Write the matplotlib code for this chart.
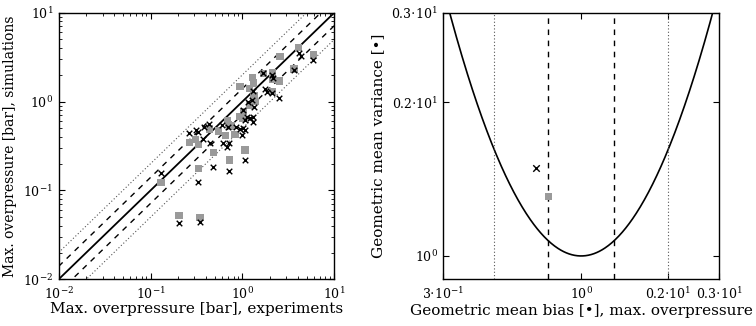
import numpy as np
import matplotlib
matplotlib.use("Agg")
import matplotlib.pyplot as plt

plt.rcParams['font.family'] = ['DejaVu Serif', 'DejaVu Sans']
plt.rcParams['mathtext.fontset'] = 'dejavuserif'

# max overpressure [bar]: experiments vs simulations, two model variants
exp_sq = [0.13, 0.204, 0.345, 0.264, 0.305, 0.331, 0.331, 0.482, 0.436, 0.546,
          0.651, 0.719, 0.684, 0.83, 1.066, 0.941, 1.293, 1.188, 1.687, 2.113,
          2.519, 2.564, 3.64, 4.06, 5.97, 2.135, 1.37, 1.022, 1.006, 0.764,
          1.313, 1.336, 0.941, 1.188, 2.135, 0.70]
sim_sq = [0.122, 0.052, 0.050, 0.344, 0.376, 0.330, 0.177, 0.266, 0.491, 0.466,
          0.413, 0.220, 0.609, 0.428, 0.285, 1.47, 1.875, 1.41, 2.08, 2.135,
          1.703, 3.20, 2.325, 4.08, 3.34, 1.291, 0.996, 0.769, 0.648, 0.531,
          1.617, 1.176, 0.675, 0.915, 1.75, 0.55]

exp_cr = [0.13, 0.204, 0.345, 0.331, 0.482, 0.714, 1.066, 0.264, 0.312, 0.331,
          0.382, 0.436, 0.375, 0.444, 0.619, 0.684, 0.719, 0.595, 0.691, 0.851,
          0.941, 1.066, 1.006, 1.066, 1.209, 1.313, 1.261, 1.336, 1.761, 1.838,
          2.083, 2.519, 1.687, 2.083, 2.168, 3.64, 4.16, 4.31, 5.91, 0.982,
          1.293, 1.158, 1.022, 1.113, 1.313]
sim_cr = [0.159, 0.0434, 0.0441, 0.125, 0.182, 0.167, 0.220, 0.446, 0.479, 0.458,
          0.513, 0.559, 0.376, 0.344, 0.344, 0.310, 0.339, 0.545, 0.521, 0.521,
          0.487, 0.479, 0.804, 0.620, 0.648, 0.675, 1.041, 0.875, 1.374, 1.291,
          1.258, 1.088, 2.112, 1.99, 1.827, 2.266, 3.49, 3.26, 2.94, 0.420,
          1.32, 0.996, 0.500, 0.675, 0.593]

# geometric mean bias / variance of each variant
mg_sq, vg_sq = 0.769, 1.31
mg_cr, vg_cr = 0.70, 1.49

grey = '#9a9a9a'

fig = plt.figure(figsize=(7.56, 3.26), dpi=100)
ax1 = fig.add_axes([0.0776, 0.1433, 0.3646, 0.8178])
ax2 = fig.add_axes([0.5864, 0.1433, 0.3647, 0.8178])

# --- scatter of simulated vs measured
ref = np.array([1e-2, 1e1])
ax1.plot(ref, ref, c='k', lw=1.3)
for f in [1.4, 1 / 1.4]:
    ax1.plot(ref, ref * f, c='k', lw=1.0, ls=(0, (4, 4)))
for f in [2.0, 0.5]:
    ax1.plot(ref, ref * f, c='#555555', lw=0.8, ls=(0, (1, 2)))
ax1.scatter(exp_sq, sim_sq, marker='s', s=26, c=grey, edgecolors='none', zorder=3)
ax1.scatter(exp_cr, sim_cr, marker='x', s=16, c='k', linewidths=1.0, zorder=4)
ax1.set_xscale('log')
ax1.set_yscale('log')
ax1.set_xlim(1e-2, 1e1)
ax1.set_ylim(1e-2, 1e1)
ax1.set_xlabel('Max. overpressure [bar], experiments', fontsize=11, labelpad=0)
ax1.set_ylabel('Max. overpressure [bar], simulations', fontsize=10, labelpad=4)

# --- geometric mean bias vs variance
mg = np.logspace(np.log10(1 / 3), np.log10(3), 400)
vg = np.exp(np.log(mg) ** 2)
ax2.plot(mg, vg, c='k', lw=1.2)
for b in [1 / 1.3, 1.3]:
    ax2.axvline(b, c='k', lw=1.0, ls=(0, (4, 4)))
for b in [0.5, 2.0]:
    ax2.axvline(b, c='#555555', lw=0.8, ls=(0, (1, 2)))
ax2.scatter([mg_sq], [vg_sq], marker='s', s=26, c=grey, edgecolors='none', zorder=3)
ax2.scatter([mg_cr], [vg_cr], marker='x', s=22, c='k', linewidths=1.0, zorder=4)
ax2.set_xscale('log')
ax2.set_yscale('log')
ax2.set_xlim(1 / 3, 3)
ax2.set_ylim(0.9, 3)
ax2.set_xticks([1 / 3, 1, 2, 3])
ax2.set_xticklabels([r'$3{\cdot}10^{-1}$', r'$10^{0}$', r'$0.2{\cdot}10^{1}$', r'$0.3{\cdot}10^{1}$'])
ax2.set_yticks([1, 2, 3])
ax2.set_yticklabels([r'$10^{0}$', r'$0.2{\cdot}10^{1}$', r'$0.3{\cdot}10^{1}$'])
ax2.minorticks_off()
ax2.set_xlabel('Geometric mean bias [•], max. overpressure', fontsize=11, labelpad=1)
ax2.set_ylabel('Geometric mean variance [•]', fontsize=11, labelpad=4)

for ax in (ax1, ax2):
    ax.tick_params(which='both', direction='in', top=True, right=True, labelsize=9)
    ax.tick_params(which='major', length=4, width=0.8)
    ax.tick_params(which='minor', length=2, width=0.6)
    ax.tick_params(axis='x', which='major', pad=5)
    ax.tick_params(axis='y', which='major', pad=4)
    for sp in ax.spines.values():
        sp.set_linewidth(1.0)

fig.savefig('out.png', dpi=100)
